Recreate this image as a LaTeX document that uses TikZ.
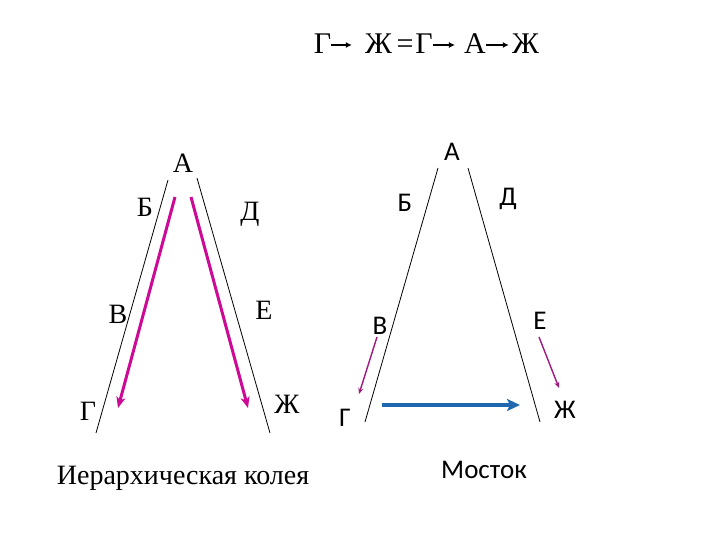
\documentclass[tikz,border=0pt]{standalone}
\usepackage{fontspec}
\setmainfont{Liberation Serif}
\newfontfamily\calfont{Carlito}
\usetikzlibrary{arrows.meta}
\definecolor{magL}{HTML}{CC0A96}
\definecolor{magR}{HTML}{A0197F}
\definecolor{blueA}{HTML}{1F67AE}
\tikzset{
  serlab/.style={inner sep=0pt, font=\fontsize{28}{32}\selectfont},
  formlab/.style={inner sep=0pt, anchor=base, font=\fontsize{30}{34}\selectfont},
  callab/.style={inner sep=0pt, font=\calfont\fontsize{27}{31}\selectfont},
  wall/.style={draw=black, line width=0.8pt},
  farrow/.style={line width=1.7pt, -{Latex[length=6pt,width=6pt]}},
  bigmag/.style={draw=magL, line width=3pt, -{Stealth[length=11pt,width=9pt,inset=3pt]}},
  smallmag/.style={draw=magR, line width=1.4pt, -{Stealth[length=6pt,width=5pt]}},
  bluearrow/.style={draw=blueA, line width=4pt, -{Stealth[length=13pt,width=12pt,inset=3pt]}}
}
\begin{document}
\begin{tikzpicture}[x=1pt,y=-1pt]
\useasboundingbox[fill=white] (0,0) rectangle (720,540);
% formula
\node[formlab] (fg1) at (322.5,54) {Г};
\node[formlab] (fzh1) at (378.5,54) {Ж};
\node[formlab] (feq) at (405,54) {=};
\node[formlab] (fg2) at (424,54) {Г};
\node[formlab] (fa) at (475,54) {А};
\node[formlab] (fzh2) at (525.5,54) {Ж};
\draw[farrow] ([yshift=9pt]fg1.base east) -- ([yshift=9pt,xshift=-13pt]fzh1.base west);
\draw[farrow] ([yshift=9pt]fg2.base east) -- ([yshift=9pt,xshift=-9pt]fa.base west);
\draw[farrow] ([yshift=9pt]fa.base east) -- ([yshift=9pt,xshift=-3pt]fzh2.base west);
% left diagram
\coordinate (l1t) at (168,180); \coordinate (l1b) at (96,433);
\coordinate (l2t) at (197,178); \coordinate (l2b) at (270,433);
\draw[wall] (l1t) -- (l1b);
\draw[wall] (l2t) -- (l2b);
\coordinate (m1s) at (175,197); \coordinate (m1e) at (118,408);
\coordinate (m2s) at (191,197); \coordinate (m2e) at (248,408);
\draw[bigmag] (m1s) -- (m1e);
\draw[bigmag] (m2s) -- (m2e);
\node[serlab] (LA) at (183,163) {А};
\node[serlab] (LB) at (145,207) {Б};
\node[serlab] (LD) at (250,214) {Д};
\node[serlab] (LV) at (118,314) {В};
\node[serlab] (LE) at (264,310) {Е};
\node[serlab] (LG) at (88,411) {Г};
\node[serlab] (LZh) at (287,404) {Ж};
\node[serlab] (capL) at (183,478) {Иерархическая колея};
% right diagram
\coordinate (r1t) at (438,168); \coordinate (r1b) at (365,422);
\coordinate (r2t) at (468,168); \coordinate (r2b) at (540,422);
\draw[wall] (r1t) -- (r1b);
\draw[wall] (r2t) -- (r2b);
\node[callab] (RA) at (452,152) {А};
\node[callab] (RB) at (405,203) {Б};
\node[callab] (RD) at (508,199) {Д};
\node[callab] (RV) at (380,326) {В};
\node[callab] (RE) at (540,321) {Е};
\node[callab] (RG) at (345,418) {Г};
\node[callab] (RZh) at (565,410) {Ж};
\node[callab] (capR) at (484,470) {Мосток};
\coordinate (s1s) at (377,337); \coordinate (s1e) at (359,394);
\coordinate (s2s) at (539,337); \coordinate (s2e) at (559,388);
\draw[smallmag] (s1s) -- (s1e);
\draw[smallmag] (s2s) -- (s2e);
\coordinate (bs) at (382,405); \coordinate (be) at (520,405);
\draw[bluearrow] (bs) -- (be);
\end{tikzpicture}
\end{document}
